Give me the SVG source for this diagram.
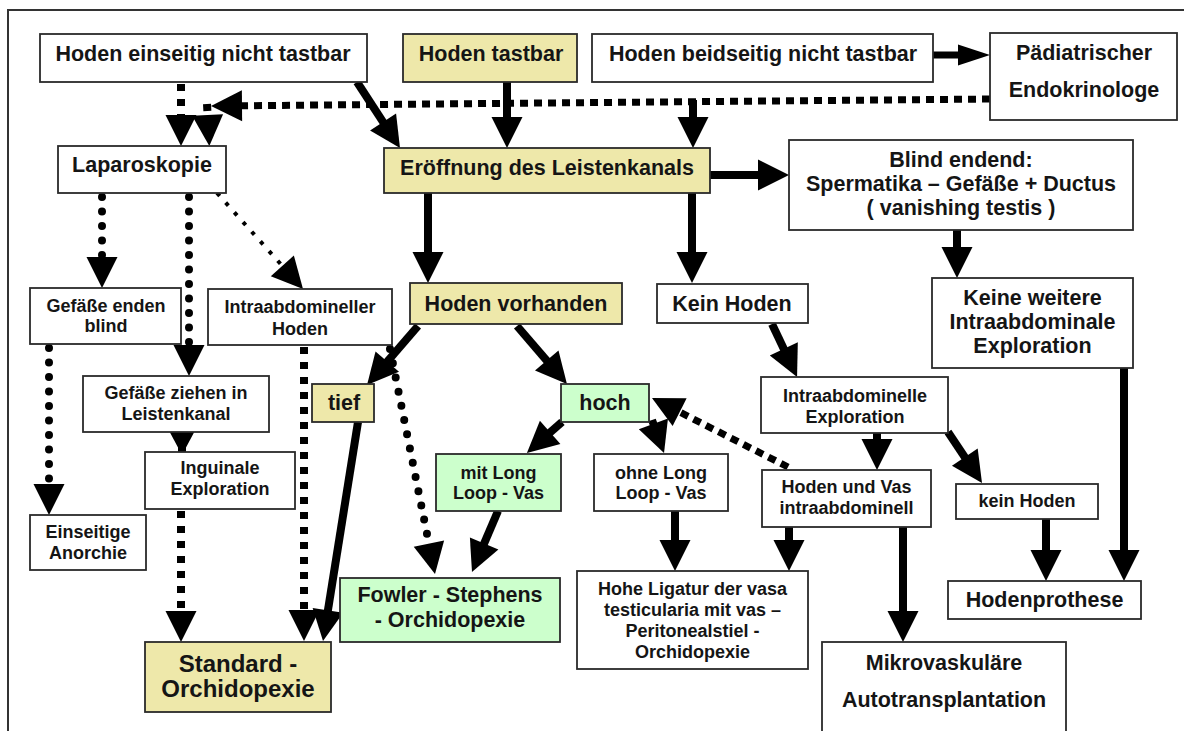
<svg xmlns="http://www.w3.org/2000/svg" width="1184" height="731" viewBox="0 0 1184 731">
<style>
.bx{fill:#fff;stroke:#2a2a2a;stroke-width:1.8}
.y{fill:#EEE8AA}
.g{fill:#CCFFCC}
text{font-family:"Liberation Sans",Arial,sans-serif;font-weight:bold;font-size:21.5px;fill:#151515;text-anchor:middle}
.s{font-size:18px}
.l{font-size:24px}
.sol{stroke:#000;stroke-width:8;fill:none;marker-end:url(#ah)}
.sq{stroke:#000;stroke-width:8;fill:none;stroke-dasharray:7 8;marker-end:url(#ah)}
.sq2{stroke:#000;stroke-width:7;fill:none;stroke-dasharray:8 6;marker-end:url(#ah)}
.rd{stroke:#000;stroke-width:8;fill:none;stroke-dasharray:0 14.5;stroke-linecap:round;marker-end:url(#ah)}
.th{stroke:#000;stroke-width:4;fill:none;stroke-dasharray:4 9;marker-end:url(#ah)}
</style>
<defs>
<marker id="ah" markerUnits="userSpaceOnUse" markerWidth="32" markerHeight="32" refX="7" refY="15.5" orient="auto" overflow="visible"><path d="M0,0 L31,15.5 L0,31 Z" fill="#000"/></marker>
<marker id="ahn" markerUnits="userSpaceOnUse" markerWidth="32" markerHeight="22" refX="8" refY="10.5" orient="auto" overflow="visible"><path d="M0,0 L32,10.5 L0,21 Z" fill="#000"/></marker>
</defs>
<path d="M8,731 V10 H1184" fill="none" stroke="#333" stroke-width="2"/>
<g id="connectors">
<line class="sol" x1="507" y1="82" x2="507" y2="124"/>
<line class="sol" x1="693" y1="100" x2="693" y2="124"/>
<line class="sol" x1="428" y1="193" x2="428" y2="259"/>
<line class="sol" x1="692" y1="193" x2="692" y2="259"/>
<line class="sol" x1="957" y1="230" x2="957" y2="254"/>
<line class="sol" x1="1124" y1="368" x2="1124" y2="557"/>
<line class="sol" x1="1046" y1="519" x2="1046" y2="557"/>
<line class="sol" x1="903" y1="527" x2="903" y2="618"/>
<line class="sol" x1="789" y1="527" x2="789" y2="547"/>
<line class="sol" x1="675" y1="511" x2="675" y2="547"/>
<line class="sol" x1="877" y1="433" x2="877" y2="446"/>
<line class="sol" x1="710" y1="175" x2="765" y2="175"/>
<line x1="933" y1="55" x2="966" y2="55" stroke="#000" stroke-width="7" marker-end="url(#ahn)"/>
<line class="sol" x1="357" y1="82" x2="386.9" y2="127.9"/>
<line class="sol" x1="418" y1="326" x2="382.7" y2="366.9"/>
<line class="sol" x1="517" y1="326" x2="551.3" y2="365.8"/>
<line class="sol" x1="562" y1="422" x2="544.9" y2="437.1"/>
<line class="sol" x1="652" y1="420" x2="655.8" y2="430.4"/>
<line class="sol" x1="498" y1="511" x2="481.4" y2="549.9"/>
<line class="sol" x1="358" y1="422" x2="326.8" y2="617.3"/>
<line class="sol" x1="772" y1="324" x2="786.8" y2="355.3"/>
<line class="sol" x1="948" y1="432" x2="968.7" y2="463"/>
<line class="sq" x1="181" y1="84" x2="181" y2="122"/>
<line class="sq2" x1="990" y1="99" x2="235" y2="105.8"/>
<line class="sq" x1="207" y1="104" x2="208" y2="122"/>
<line class="rd" x1="102" y1="197" x2="102" y2="264"/>
<line class="rd" x1="189" y1="197" x2="189" y2="352"/>
<line class="th" x1="217" y1="193" x2="287" y2="271.1"/>
<line class="rd" x1="49" y1="348" x2="49" y2="491"/>
<line class="sq" x1="304" y1="347" x2="304" y2="617"/>
<line class="rd" x1="390" y1="349" x2="430.3" y2="550.5"/>
<line class="sq" x1="181" y1="511" x2="181" y2="618"/>
<line class="sq2" x1="788" y1="467" x2="673.4" y2="408.9"/>
<line x1="182" y1="432" x2="182" y2="462" stroke="#000" stroke-width="8"/>
<path d="M166,425 L198,425 L182,455 Z" fill="#000"/>
</g>
<g id="n1"><rect class="bx" x="40" y="34" width="327" height="48"/><text x="203" y="61">Hoden einseitig nicht tastbar</text></g>
<g id="n2"><rect class="bx y" x="403" y="34" width="174" height="48"/><text x="491" y="61">Hoden tastbar</text></g>
<g id="n3"><rect class="bx" x="592" y="34" width="341" height="48"/><text x="763" y="61">Hoden beidseitig nicht tastbar</text></g>
<g id="n4"><rect class="bx" x="990" y="33" width="187" height="87"/><text x="1084" y="60">Pädiatrischer</text><text x="1084" y="97">Endokrinologe</text></g>
<g id="n5"><rect class="bx" x="58" y="146" width="168" height="47"/><text x="142" y="172">Laparoskopie</text></g>
<g id="n6"><rect class="bx y" x="384" y="148" width="326" height="45"/><text x="547" y="175">Eröffnung des Leistenkanals</text></g>
<g id="n7"><rect class="bx" x="789" y="140" width="344" height="90"/><text x="961" y="167">Blind endend:</text><text x="961" y="191">Spermatika – Gefäße + Ductus</text><text x="961" y="215">( vanishing testis )</text></g>
<g id="n8"><rect class="bx" x="932" y="278" width="201" height="90"/><text x="1032.5" y="305">Keine weitere</text><text x="1032.5" y="329">Intraabdominale</text><text x="1032.5" y="353">Exploration</text></g>
<g id="n9"><rect class="bx" x="30" y="288" width="151" height="56"/><text class="s" x="106" y="312">Gefäße enden</text><text class="s" x="106" y="332">blind</text></g>
<g id="n10"><rect class="bx" x="208" y="289" width="184" height="56"/><text class="s" x="300" y="313">Intraabdomineller</text><text class="s" x="300" y="335">Hoden</text></g>
<g id="n11"><rect class="bx y" x="410" y="283" width="212" height="41"/><text x="516" y="311">Hoden vorhanden</text></g>
<g id="n12"><rect class="bx" x="657" y="284" width="151" height="39"/><text x="732" y="311">Kein Hoden</text></g>
<g id="n13"><rect class="bx" x="83" y="376" width="186" height="56"/><text class="s" x="176" y="399">Gefäße ziehen in</text><text class="s" x="176" y="420">Leistenkanal</text></g>
<g id="n14"><rect class="bx y" x="312" y="384" width="62" height="38"/><text x="344" y="410">tief</text></g>
<g id="n15"><rect class="bx g" x="561" y="384" width="88" height="38"/><text x="605" y="410">hoch</text></g>
<g id="n16"><rect class="bx" x="761" y="377" width="187" height="56"/><text class="s" x="855" y="402">Intraabdominelle</text><text class="s" x="855" y="423">Exploration</text></g>
<g id="n17"><rect class="bx" x="145" y="452" width="150" height="57"/><text class="s" x="220" y="474">Inguinale</text><text class="s" x="220" y="495">Exploration</text></g>
<g id="n18"><rect class="bx g" x="436" y="454" width="125" height="57"/><text class="s" x="498.5" y="479">mit Long</text><text class="s" x="498.5" y="499">Loop - Vas</text></g>
<g id="n19"><rect class="bx" x="594" y="454" width="134" height="57"/><text class="s" x="661" y="479">ohne Long</text><text class="s" x="661" y="499">Loop - Vas</text></g>
<g id="n20"><rect class="bx" x="762" y="470" width="169" height="57"/><text class="s" x="846.5" y="493">Hoden und Vas</text><text class="s" x="846.5" y="514">intraabdominell</text></g>
<g id="n21"><rect class="bx" x="956" y="484" width="142" height="35"/><text class="s" x="1027" y="507">kein Hoden</text></g>
<g id="n22"><rect class="bx" x="30" y="515" width="116" height="55"/><text class="s" x="88" y="538">Einseitige</text><text class="s" x="88" y="559">Anorchie</text></g>
<g id="n23"><rect class="bx g" x="340" y="578" width="220" height="64"/><text x="450" y="602">Fowler - Stephens</text><text x="450" y="627">- Orchidopexie</text></g>
<g id="n24"><rect class="bx" x="577" y="571" width="231" height="98"/><text class="s" x="692.5" y="595">Hohe Ligatur der vasa</text><text class="s" x="692.5" y="616">testicularia mit vas –</text><text class="s" x="692.5" y="637">Peritonealstiel -</text><text class="s" x="692.5" y="658">Orchidopexie</text></g>
<g id="n25"><rect class="bx" x="948" y="581" width="193" height="38"/><text x="1044.5" y="607">Hodenprothese</text></g>
<g id="n26"><rect class="bx y" x="145" y="642" width="186" height="70"/><text class="l" x="238" y="672">Standard -</text><text class="l" x="238" y="697">Orchidopexie</text></g>
<g id="n27"><rect class="bx" x="822" y="642" width="244" height="95"/><text x="944" y="670">Mikrovaskuläre</text><text x="944" y="707">Autotransplantation</text></g>
</svg>
